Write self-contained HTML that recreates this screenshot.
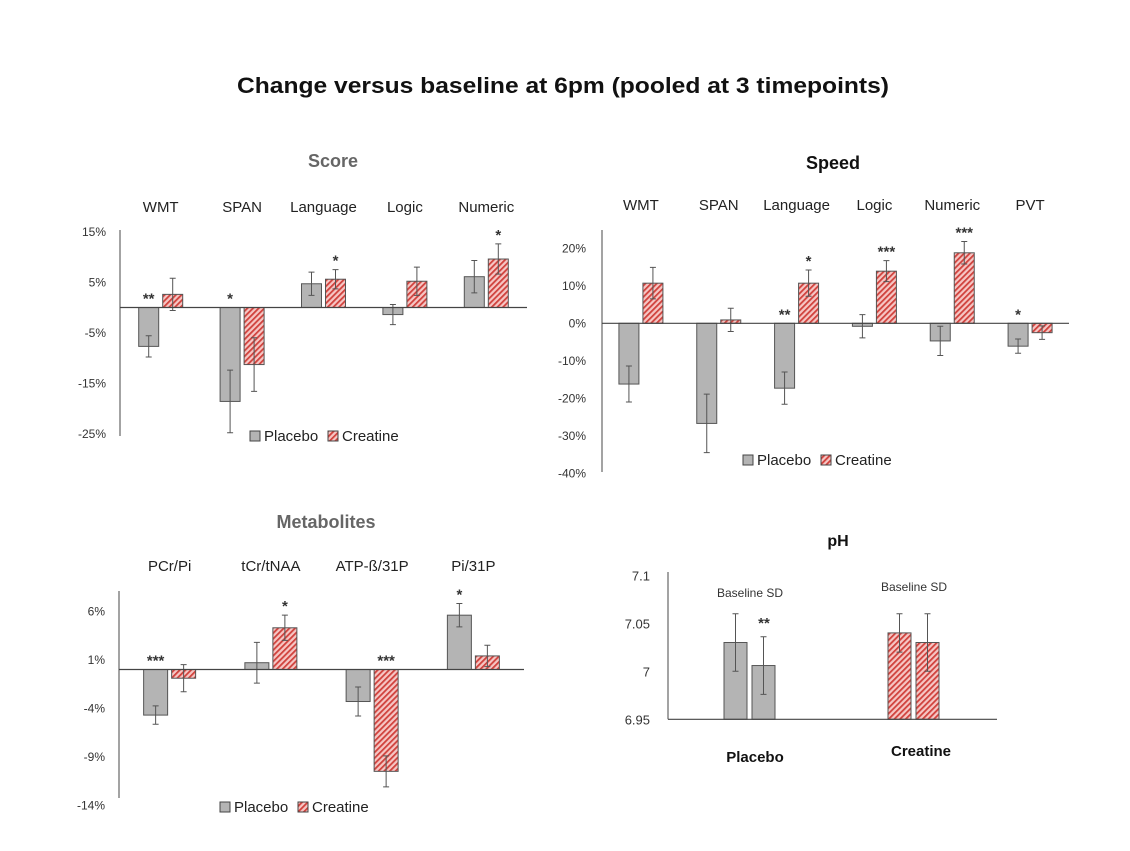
<!DOCTYPE html>
<html><head><meta charset="utf-8"><style>
body{margin:0;background:#fff;width:1130px;height:846px;overflow:hidden}
svg{font-family:"Liberation Sans",sans-serif}
</style></head><body>
<svg id="s" width="1130" height="846" viewBox="0 0 1130 846" xmlns="http://www.w3.org/2000/svg">
<defs>
<pattern id="hatch" patternUnits="userSpaceOnUse" width="4" height="4" patternTransform="rotate(45)">
<rect width="4" height="4" fill="#f6c6c4"/><rect width="1.8" height="4" fill="#d0413c"/>
</pattern>
</defs>
<text x="563" y="93" text-anchor="middle" font-size="22" font-weight="bold" fill="#111" textLength="652" lengthAdjust="spacingAndGlyphs">Change versus baseline at 6pm  (pooled at 3 timepoints)</text>
</svg>
<script>
// Score chart data
const scoreCats = ["WMT","SPAN","Language","Logic","Numeric"];
const scorePlacebo = [-7.7,-18.6,4.7,-1.4,6.1];
const scorePlaceboErr = [2.1,6.2,2.3,2.0,3.2];
const scoreCreatine = [2.6,-11.3,5.6,5.2,9.6];
const scoreCreatineErr = [3.2,5.3,1.9,2.8,3.0];
const scoreStarsP = ["**","*","","",""];
const scoreStarsC = ["","","*","","*"];
const scoreTicks = [15,5,-5,-15,-25];
// Speed chart data
const speedCats = ["WMT","SPAN","Language","Logic","Numeric","PVT"];
const speedPlacebo = [-16.2,-26.7,-17.3,-0.8,-4.7,-6.1];
const speedPlaceboErr = [4.8,7.8,4.3,3.1,3.9,1.9];
const speedCreatine = [10.7,0.9,10.7,13.9,18.8,-2.5];
const speedCreatineErr = [4.2,3.1,3.5,2.8,3.0,1.8];
const speedStarsP = ["","","**","","","*"];
const speedStarsC = ["","","*","***","***",""];
const speedTicks = [20,10,0,-10,-20,-30,-40];
// Metabolites data
const metCats = ["PCr/Pi","tCr/tNAA","ATP-ß/31P","Pi/31P"];
const metPlacebo = [-4.7,0.7,-3.3,5.6];
const metPlaceboErr = [0.95,2.1,1.5,1.2];
const metCreatine = [-0.9,4.3,-10.5,1.4];
const metCreatineErr = [1.4,1.3,1.6,1.1];
const metStarsP = ["***","","","*"];
const metStarsC = ["","*","***",""];
const metTicks = [6,1,-4,-9,-14];
// pH data
const phGroups = ["Placebo","Creatine"];
const phBaseline = [7.03,7.04];
const phBaselineErr = [0.03,0.02];
const phAfter = [7.006,7.03];
const phAfterErr = [0.03,0.03];
const phTicks = [7.1,7.05,7,6.95];

const NS="http://www.w3.org/2000/svg";
const svg=document.getElementById('s');
function mk(tag,attrs,parent){const e=document.createElementNS(NS,tag);for(const k in attrs)e.setAttribute(k,attrs[k]);(parent||svg).appendChild(e);return e;}
function txt(x,y,s,size,fill,anchor,weight,parent){const t=mk('text',{x:x,y:y,'font-size':size,fill:fill,'text-anchor':anchor||'middle','font-weight':weight||'normal'},parent);t.textContent=s;return t;}

function legend(g,x,y,key){
  const r1=mk('rect',{x:x,y:y-10,width:10,height:10,fill:'#b4b4b4',stroke:'#444','stroke-width':1},g);
  
  
  const t1=txt(x+14,y,'Placebo',15,'#222','start','normal',g);
  
  
  const r2=mk('rect',{x:x+78,y:y-10,width:10,height:10,fill:'url(#hatch)',stroke:'#444','stroke-width':1},g);
  
  
  const t2=txt(x+92,y,'Creatine',15,'#222','start','normal',g);
  
  
}

function errbar(g,x,v1,v2,y,name){
  const l=mk('path',{d:`M${x} ${y(v1)}V${y(v2)}M${x-3} ${y(v1)}H${x+3}M${x-3} ${y(v2)}H${x+3}`,stroke:'#555','stroke-width':1,fill:'none'},g);
  
  
}

function barChart(o){
  const g=mk('g',{});
  
  
  const y=v=>o.y0-v*o.ppu;
  const tt=txt(o.titleX,o.titleY,o.title,18,o.titleColor,'middle','bold',g);
  
  
  const n=o.cats.length, cw=(o.x1-o.x0)/n;
  o.ticks.forEach(t=>{
    const e=txt(o.x0-o.tickOff,y(t)+4,t+'%',12,'#333','end','normal',g);
    
    
  });
  const ax=mk('line',{x1:o.x0,x2:o.x0,y1:o.axTop,y2:o.axBot,stroke:'#666','stroke-width':1.2},g);
  
  
  o.cats.forEach((c,i)=>{
    const cx=o.x0+cw*(i+0.5);
    const cl=txt(cx,o.catY,c,15,'#222','middle','normal',g);
    
    
    [[o.p,o.pe,o.sp,'#b4b4b4','placebo',-1],[o.c,o.ce,o.sc,'url(#hatch)','creatine',1]].forEach(([vals,errs,stars,fill,nm,side])=>{
      const v=vals[i], bx=side<0?cx-2-o.bw:cx+2;
      const b=mk('rect',{x:bx,y:Math.min(y(v),y(0)),width:o.bw,height:Math.abs(y(v)-y(0)),fill:fill,stroke:'#555','stroke-width':1},g);
      
      
      const mx=bx+o.bw/2;
      errbar(g,mx,v+errs[i],v-errs[i],y,o.key+'-error-bar');
      if(stars[i]){
        const top=v>=0?y(v+errs[i]):y(0);
        const s=txt(mx,top-4,stars[i],15,'#333','middle','bold',g);
        
        
      }
    });
  });
  const xa=mk('line',{x1:o.x0,x2:o.x1,y1:y(0),y2:y(0),stroke:'#444','stroke-width':1.2},g);
  
  
  legend(g,o.legX,o.legY,o.key);
}

barChart({key:'score',title:'Score',titleX:333,titleY:167,titleColor:'#666',cats:scoreCats,p:scorePlacebo,pe:scorePlaceboErr,c:scoreCreatine,ce:scoreCreatineErr,sp:scoreStarsP,sc:scoreStarsC,ticks:scoreTicks,x0:120,x1:527,y0:307.5,ppu:5.05,axTop:230,axBot:436,bw:20,catY:212,tickOff:14,legX:250,legY:441});
barChart({key:'speed',title:'Speed',titleX:833,titleY:169,titleColor:'#111',cats:speedCats,p:speedPlacebo,pe:speedPlaceboErr,c:speedCreatine,ce:speedCreatineErr,sp:speedStarsP,sc:speedStarsC,ticks:speedTicks,x0:602,x1:1069,y0:323.3,ppu:3.75,axTop:230,axBot:472,bw:20,catY:210,tickOff:16,legX:743,legY:465});
barChart({key:'metabolites',title:'Metabolites',titleX:326,titleY:528,titleColor:'#666',cats:metCats,p:metPlacebo,pe:metPlaceboErr,c:metCreatine,ce:metCreatineErr,sp:metStarsP,sc:metStarsC,ticks:metTicks,x0:119,x1:524,y0:669.5,ppu:9.7,axTop:591,axBot:798,bw:24,catY:571,tickOff:14,legX:220,legY:812});

// pH chart
(function(){
  const g=mk('g',{});
  
  
  const y=v=>719.3-(v-6.95)*960;
  const t=txt(838,546,'pH',16,'#111','middle','bold',g);
  
  
  phTicks.forEach(v=>{
    const e=txt(650,y(v)+5,String(v),13,'#333','end','normal',g);
    
    
  });
  const ax=mk('line',{x1:668,x2:668,y1:572,y2:719.3,stroke:'#666','stroke-width':1.2},g);
  
  
  const centers=[750,914], fills=['#b4b4b4','url(#hatch)'];
  phGroups.forEach((gn,i)=>{
    const cx=centers[i];
    [[phBaseline,phBaselineErr,-1,'baseline'],[phAfter,phAfterErr,1,'after']].forEach(([vals,errs,side,nm])=>{
      const bx=side<0?cx-26:cx+2;
      const b=mk('rect',{x:bx,y:y(vals[i]),width:23,height:719.3-y(vals[i]),fill:fills[i],stroke:'#555','stroke-width':1},g);
      
      
      errbar(g,bx+11.5,vals[i]+errs[i],vals[i]-errs[i],y,'ph-error-bar');
    });
    const bl=txt(cx,i===0?597:591,'Baseline SD',12,'#333','middle','normal',g);
    
    
    const gl=txt(cx+(i===0?5:7),i===0?762:756,gn,15,'#111','middle','bold',g);
    
    
  });
  const st=txt(764,628,'**',15,'#333','middle','bold',g);
  
  
  const xa=mk('line',{x1:668,x2:997,y1:719.3,y2:719.3,stroke:'#444','stroke-width':1.2},g);
  
  
})();
</script>
</body></html>
